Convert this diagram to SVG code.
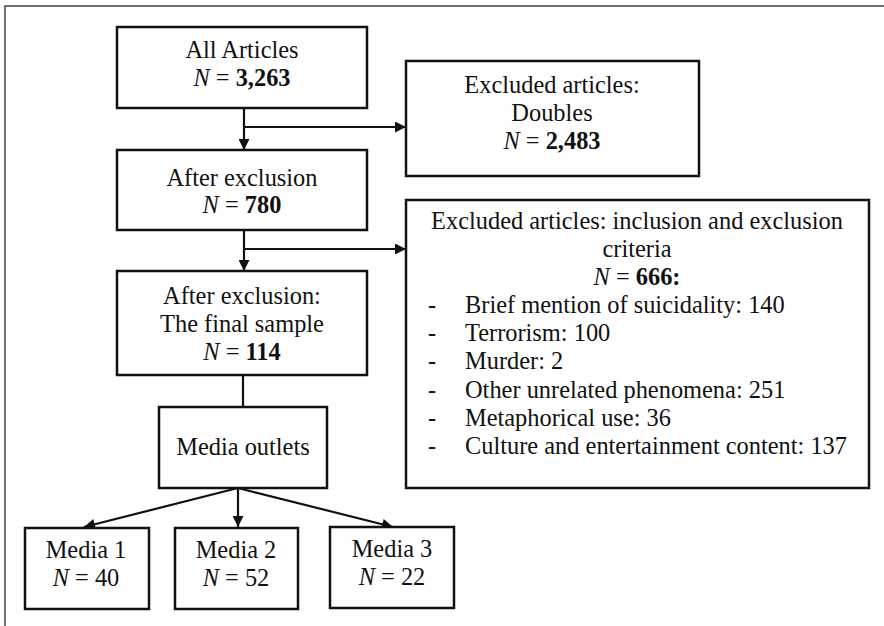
<svg xmlns="http://www.w3.org/2000/svg" width="884" height="626" viewBox="0 0 884 626">
<style>
.box{fill:#fff;stroke:#111;stroke-width:2.5}
.t{font-family:"Liberation Serif","Times New Roman",serif;font-size:24.4px;fill:#111;text-anchor:middle}
.l{text-anchor:start}
.c{stroke:#111;stroke-width:2.2;fill:none}
</style>
<defs>
<marker id="ah" viewBox="0 0 10 10" refX="10" refY="5" markerWidth="5.5" markerHeight="5" orient="auto" markerUnits="strokeWidth">
<path d="M0,0 L10,5 L0,10 z" fill="#111"/>
</marker>
</defs>
<rect width="884" height="626" fill="#fff"/>
<path d="M5,626 V6 H884" fill="none" stroke="#444" stroke-width="1.5"/>
<g id="connectors">
<path class="c" d="M244,108 V150" marker-end="url(#ah)"/>
<path class="c" d="M244,127 H406" marker-end="url(#ah)"/>
<path class="c" d="M244,230 V271" marker-end="url(#ah)"/>
<path class="c" d="M244,249 H406" marker-end="url(#ah)"/>
<path class="c" d="M243,375 V407"/>
<path class="c" d="M238,488 L84,527" marker-end="url(#ah)"/>
<path class="c" d="M238,488 V527" marker-end="url(#ah)"/>
<path class="c" d="M238,488 L393,527" marker-end="url(#ah)"/>
</g>
<g id="all">
<rect class="box" x="117" y="27" width="250" height="81"/>
<text class="t" x="242" y="58">All Articles</text>
<text class="t" x="242" y="86"><tspan font-style="italic">N</tspan> = <tspan font-weight="bold">3,263</tspan></text>
</g>
<g id="doubles">
<rect class="box" x="406" y="61" width="293" height="115"/>
<text class="t" x="552" y="93">Excluded articles:</text>
<text class="t" x="552" y="121">Doubles</text>
<text class="t" x="552" y="149"><tspan font-style="italic">N</tspan> = <tspan font-weight="bold">2,483</tspan></text>
</g>
<g id="after1">
<rect class="box" x="117" y="150" width="250" height="80"/>
<text class="t" x="242" y="186">After exclusion</text>
<text class="t" x="242" y="213"><tspan font-style="italic">N</tspan> = <tspan font-weight="bold">780</tspan></text>
</g>
<g id="criteria">
<rect class="box" x="406" y="200" width="463" height="288"/>
<text class="t" x="637" y="229">Excluded articles: inclusion and exclusion</text>
<text class="t" x="637" y="257">criteria</text>
<text class="t" x="637" y="285"><tspan font-style="italic">N</tspan> = <tspan font-weight="bold">666:</tspan></text>
<text class="t l" x="428" y="313">-</text><text class="t l" x="465" y="313">Brief mention of suicidality: 140</text>
<text class="t l" x="428" y="341">-</text><text class="t l" x="465" y="341">Terrorism: 100</text>
<text class="t l" x="428" y="369">-</text><text class="t l" x="465" y="369">Murder: 2</text>
<text class="t l" x="428" y="398">-</text><text class="t l" x="465" y="398">Other unrelated phenomena: 251</text>
<text class="t l" x="428" y="426">-</text><text class="t l" x="465" y="426">Metaphorical use: 36</text>
<text class="t l" x="428" y="454">-</text><text class="t l" x="465" y="454">Culture and entertainment content: 137</text>
</g>
<g id="final">
<rect class="box" x="117" y="271" width="250" height="104"/>
<text class="t" x="242" y="304">After exclusion:</text>
<text class="t" x="242" y="332">The final sample</text>
<text class="t" x="242" y="360"><tspan font-style="italic">N</tspan> = <tspan font-weight="bold">114</tspan></text>
</g>
<g id="outlets">
<rect class="box" x="159" y="407" width="168" height="81"/>
<text class="t" x="243" y="455">Media outlets</text>
</g>
<g id="media1">
<rect class="box" x="25" y="528" width="124" height="81"/>
<text class="t" x="86" y="558">Media 1</text>
<text class="t" x="86" y="586"><tspan font-style="italic">N</tspan> = 40</text>
</g>
<g id="media2">
<rect class="box" x="175" y="528" width="123" height="81"/>
<text class="t" x="236" y="558">Media 2</text>
<text class="t" x="236" y="586"><tspan font-style="italic">N</tspan> = 52</text>
</g>
<g id="media3">
<rect class="box" x="330" y="527" width="124" height="81"/>
<text class="t" x="392" y="557">Media 3</text>
<text class="t" x="392" y="585"><tspan font-style="italic">N</tspan> = 22</text>
</g>
</svg>
